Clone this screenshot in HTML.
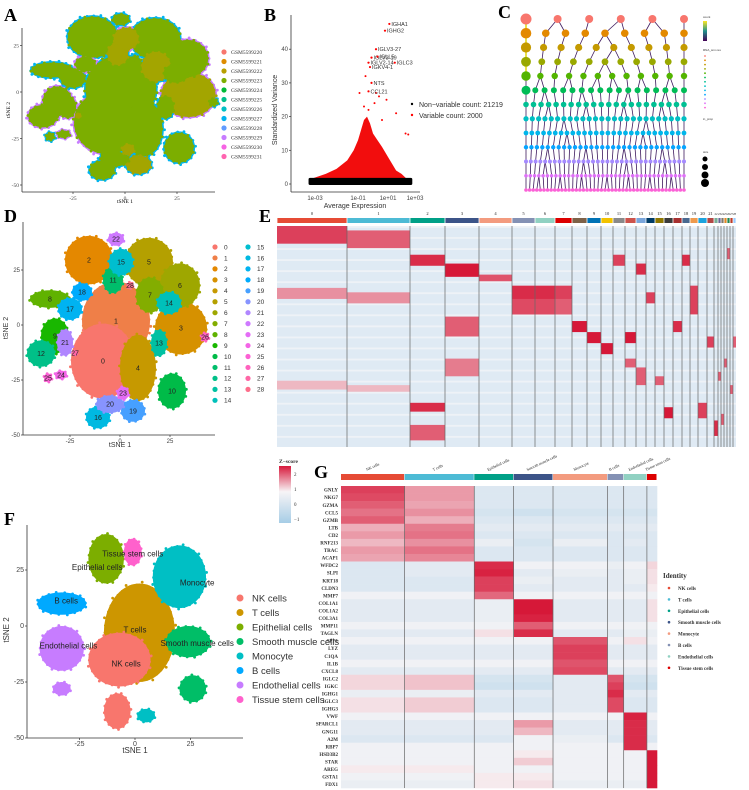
<!DOCTYPE html>
<html><head><meta charset="utf-8">
<style>
html,body{margin:0;padding:0;background:#fff;}
svg{display:block;font-family:"Liberation Sans",sans-serif;}
.ser{font-family:"Liberation Serif",serif;}
</style></head>
<body>
<svg id="fig" width="749" height="790" viewBox="0 0 749 790" xmlns="http://www.w3.org/2000/svg">
<text class="ser" x="4" y="21" font-size="18" font-weight="bold">A</text>
<text class="ser" x="264" y="21" font-size="18" font-weight="bold">B</text>
<text class="ser" x="498" y="18" font-size="18" font-weight="bold">C</text>
<text class="ser" x="4" y="222" font-size="18" font-weight="bold">D</text>
<text class="ser" x="259" y="222" font-size="18" font-weight="bold">E</text>
<text class="ser" x="4" y="525" font-size="18" font-weight="bold">F</text>
<text class="ser" x="314" y="478" font-size="18" font-weight="bold">G</text>
</svg>
<script>
// ---------------- DATA ----------------
const sampleNames = ["GSM5599220","GSM5599221","GSM5599222","GSM5599223","GSM5599224","GSM5599225","GSM5599226","GSM5599227","GSM5599228","GSM5599229","GSM5599230","GSM5599231"];
const clusterIds = [0,1,2,3,4,5,6,7,8,9,10,11,12,13,14,15,16,17,18,19,20,21,22,23,24,25,26,27,28];
const clusterX = [-8.5,-2,-15.5,30.5,9,14.5,30,15,-35,-32.5,26,-3.5,-39.5,19.5,24.5,0.5,-11,-25,-19,6.5,-5,-27.5,-2,1.5,-29.5,-36,42.5,-22.5,5];
const clusterY = [-16.4,1.8,29.5,-1.4,-19.5,28.6,18,13.6,11.8,-5,-30,20.5,-13,-8.2,10,28.6,-42,7.3,15,-39,-36,-8,39,-31,-22.7,-24,-5.5,-12.7,18];
const clusterRX = [16,17,12,13,9,12,10,7,10,7,7,5,7,4,6,6,6,6,5,6,7,4,4,3,3,2,2,1,1.5];
const clusterRY = [17,18,11,12,15,11,10,8,4,8,8,6,6,6,5,6,5,5,4,5,4,6,3,3,2,2,2,1,1.5];
const cellTypes = ["NK cells","T cells","Epithelial cells","Smooth muscle cells","Monocyte","B cells","Endothelial cells","Tissue stem cells"];
const fColors = ["#F8766D","#CD9600","#7CAE00","#00BE67","#00BFC4","#00A9FF","#C77CFF","#FF61CC"];
const fBlobType = [1,0,0,2,6,6,3,3,4,4,5,7];
const fBlobX = [2,-7,-8,-13,-33,-33,24,26,20,5,-33,-1];
const fBlobY = [-3,-15,-38,30,-10,-28,-7,-28,22,-40,10,33];
const fBlobRX = [16,14,6,8,10,4,10,6,12,4,11,4];
const fBlobRY = [22,12,8,11,10,3,7,6,14,3,5,6];
const fLabelX = [-4,0,-17,28,28,-31,-30,-1];
const fLabelY = [-18,-3,25,-9,18,10,-10,31];
const bTickLog = [-3,-1,1,3];
const bTickLabels = ["1e-03","1e-01","1e+01","1e+03"];
const bYTicks = [0,10,20,30,40];
const cloudLog = [-3.2,-2.5,-2,-1.5,-1.2,-1,-0.8,-0.6,-0.4,-0.2,0,0.3,0.6,1,1.3,1.6,2,2.4];
const cloudTop = [1.5,3,4.5,7,10,13,16,19,20,18,15,13,11,8,6,4,3,1.5];
const geneNames = ["IGHA1","IGHG2","IGLV3-27","IGLV3-19","IGLL5","IGLV2-14","IGLC3","IGKV4-1","NTS","CCL21"];
const geneLog = [1.1,0.8,0.2,-0.1,0.3,-0.3,1.5,-0.2,-0.1,-0.3];
const geneVar = [47.5,45.5,40,37.5,37.8,36,36,34.7,30,27.5];
const extraRedLog = [-0.5,0.9,1.6,2.3,2.5,0.4,-0.9,0.1,-0.3,0.6,-0.6,0.2];
const extraRedVar = [32,25,21,15,14.7,26,27,24,22,19,23,27];
const levelCounts = [6,9,10,11,12,18,22,26,28,30,34,38,45];
const eSizes = [70,63,35,34,33,23,20,17,15,14,12,12,11,10,9,9,9,9,8,8,9,7,4,3,3,3,3,3,3];
const eHeaderColors = ["#E64B35","#4DBBD5","#00A087","#3C5488","#F39B7F","#8491B4","#91D1C2","#DC0000","#7E6148","#0072B5","#F2C200","#8A8A8A","#CD534C","#7AA6DC","#003C67","#8F7700","#3B3B3B","#A73030","#4A6990","#EE9A4D","#1BA3DE","#B24745","#79AF97","#6A6599","#80796B","#E18727","#20854E","#BC3C29","#99CCFF"];
const eMarkCluster = [0,0,1,1,2,2,3,3,4,5,5,6,6,7,7,8,9,10,11,12,12,13,13,14,15,16,17,18,19,20,21,22,23,24,25,26,27,28,3,2,0,1];
const eMarkStart = [0,0.28,0.02,0.3,0.13,0.8,0.17,0.41,0.22,0.27,0.33,0.27,0.33,0.27,0.33,0.43,0.48,0.53,0.13,0.48,0.6,0.17,0.64,0.3,0.68,0.82,0.43,0.13,0.27,0.8,0.5,0.88,0.66,0.85,0.6,0.1,0.72,0.5,0.6,0.9,0.7,0.72];
const eMarkEnd = [0.08,0.33,0.1,0.35,0.18,0.84,0.23,0.5,0.25,0.4,0.4,0.4,0.4,0.4,0.4,0.48,0.53,0.58,0.18,0.53,0.64,0.22,0.72,0.35,0.72,0.87,0.48,0.18,0.4,0.87,0.55,0.95,0.7,0.9,0.64,0.15,0.76,0.55,0.68,0.97,0.74,0.75];
const eMarkVal = [1.8,1,1.5,1,2,2,2.5,1.5,1.6,2,1.7,2,1.7,1.8,1.5,2.2,2.3,2.2,1.8,2.2,1.5,2,1.5,1.8,1.5,2.3,2,2,1.8,1.8,1.8,2,1.5,1.5,1.5,1.5,1.5,1.5,1.2,1.5,0.6,0.6];
const gGroups = cellTypes;
const gGroupSizes = [63,69,39,39,54,16,23,10];
const gGroupColors = ["#E64B35","#4DBBD5","#00A087","#3C5488","#F39B7F","#8491B4","#91D1C2","#DC0000"];
const gGenes = ["GNLY","NKG7","GZMA","CCL5","GZMB","LTB","CD2","RNF213","TRAC","ACAP1","WFDC2","SLPI","KRT18","CLDN3","MMP7","COL1A1","COL1A2","COL3A1","MMP11","TAGLN","SPP1","LYZ","C1QA","IL1B","CXCL8","IGLC2","IGKC","IGHG1","IGLC3","IGHG3","VWF","SPARCL1","GNG11","A2M","RBP7","HSD3B2","STAR","AREG","GSTA1","FDX1"];
const gValues = [
[1.8,0.9,-0.4,-0.4,-0.4,-0.4,-0.4,-0.4],[1.7,0.9,-0.4,-0.4,-0.4,-0.4,-0.4,-0.4],[1.5,0.8,-0.4,-0.4,-0.4,-0.4,-0.4,-0.4],[1.3,1.0,-0.5,-0.6,-0.5,-0.5,-0.5,-0.5],[1.5,0.7,-0.4,-0.4,-0.4,-0.4,-0.4,-0.4],
[0.7,1.2,-0.3,-0.3,-0.3,-0.3,-0.3,-0.3],[0.9,1.3,-0.4,-0.4,-0.4,-0.4,-0.4,-0.4],[0.6,1.0,-0.2,-0.5,-0.2,-0.4,-0.3,-0.4],[0.9,1.3,-0.4,-0.4,-0.4,-0.4,-0.4,-0.4],[0.8,1.1,-0.4,-0.4,-0.4,-0.4,-0.4,-0.4],
[-0.4,-0.3,2.0,-0.1,-0.1,-0.2,-0.1,0.3],[-0.4,-0.3,2.1,-0.3,-0.2,-0.3,-0.2,0.2],[-0.4,-0.4,1.8,-0.2,-0.3,-0.3,-0.2,0.2],[-0.4,-0.4,1.8,-0.3,-0.3,-0.3,-0.3,0.1],[-0.1,-0.1,1.4,-0.1,-0.1,-0.1,-0.1,-0.1],
[-0.3,-0.3,-0.2,2.2,-0.3,-0.3,-0.3,0.2],[-0.3,-0.3,-0.2,2.2,-0.3,-0.3,-0.3,0.2],[-0.3,-0.3,-0.2,2.1,-0.3,-0.3,-0.3,0.2],[-0.1,-0.1,-0.1,1.5,-0.1,-0.1,-0.1,-0.1],[-0.3,-0.3,0.2,2.0,-0.3,-0.3,-0.2,-0.2],
[-0.1,-0.1,-0.1,-0.1,1.6,-0.1,0.2,-0.1],[-0.3,-0.3,-0.3,-0.3,1.8,-0.3,-0.3,-0.3],[-0.3,-0.3,-0.3,-0.3,1.8,-0.3,-0.3,-0.3],[-0.1,-0.1,-0.1,-0.1,1.6,-0.1,-0.1,-0.1],[-0.3,-0.3,-0.3,-0.3,1.7,-0.3,-0.3,-0.3],
[0.3,0.5,-0.5,-0.5,-0.3,1.6,-0.5,-0.5],[0.3,0.5,-0.6,-0.6,-0.3,1.8,-0.6,-0.6],[-0.2,-0.2,-0.3,-0.3,-0.3,2.0,-0.3,-0.3],[0.2,0.4,-0.4,-0.4,-0.3,1.7,-0.4,-0.4],[0.2,0.4,-0.4,-0.4,-0.3,1.7,-0.4,-0.4],
[-0.1,-0.1,-0.1,-0.1,-0.1,-0.1,2.1,-0.1],[-0.3,-0.3,-0.3,0.9,-0.3,-0.3,2.0,-0.3],[-0.3,-0.3,-0.3,0.6,-0.3,-0.3,2.0,-0.3],[-0.4,-0.4,-0.4,-0.1,-0.2,-0.4,2.0,-0.4],[-0.1,-0.1,-0.1,-0.1,-0.1,-0.1,2.0,-0.1],
[-0.1,-0.1,-0.1,0.1,-0.1,-0.1,-0.1,2.5],[-0.1,-0.1,-0.1,0.4,-0.1,-0.1,-0.1,2.5],[0.1,0.1,-0.1,-0.1,-0.1,-0.1,-0.1,2.5],[-0.1,-0.1,0.1,0.1,-0.1,-0.1,-0.1,2.5],[-0.2,-0.2,0.1,0.2,-0.2,-0.2,-0.2,2.5]];
const zTicks = [2,1,0,-1];

// ---------------- HELPERS ----------------
const NS='http://www.w3.org/2000/svg';
const svg=document.getElementById('fig');
function mk(tag,attrs,parent){const e=document.createElementNS(NS,tag);for(const k in attrs)e.setAttribute(k,attrs[k]);(parent||svg).appendChild(e);return e;}
function hcl(h,c,l){
  const hr=h*Math.PI/180,u=c*Math.cos(hr),v=c*Math.sin(hr);
  const Xn=95.047,Yn=100,Zn=108.883,d=Xn+15*Yn+3*Zn,un=4*Xn/d,vn=9*Yn/d;
  const Y=l>8?Yn*Math.pow((l+16)/116,3):Yn*l/903.3;
  const up=u/(13*l)+un,vp=v/(13*l)+vn;
  const X=Y*9*up/(4*vp),Z=Y*(12-3*up-20*vp)/(4*vp);
  const x=X/100,y=Y/100,z=Z/100;
  let r=3.2406*x-1.5372*y-0.4986*z,g=-0.9689*x+1.8758*y+0.0415*z,b=0.0557*x-0.2040*y+1.0570*z;
  const gm=t=>{t=t<=0.0031308?12.92*t:1.055*Math.pow(t,1/2.4)-0.055;return Math.max(0,Math.min(255,Math.round(t*255)));};
  return 'rgb('+gm(r)+','+gm(g)+','+gm(b)+')';
}
function huePal(n){const a=[];for(let i=0;i<n;i++)a.push(hcl(15+360*i/n,100,65));return a;}
function zColor(v){
  v=Math.max(-1.2,Math.min(2.5,v));
  let c1,c2,t;
  if(v<0){c1=[247,244,246];c2=[166,205,230];t=-v/1.2;}
  else{c1=[247,244,246];c2=[214,24,56];t=Math.min(1,v/2.2);}
  const c=c1.map((a,i)=>Math.round(a+(c2[i]-a)*t));
  return 'rgb('+c.join(',')+')';
}
function blob(g,cx,cy,rx,ry,color,name){
  const e=mk('ellipse',{cx:cx,cy:cy,rx:rx,ry:ry,fill:color},g);
  
  
  const n=Math.max(6,Math.round((rx+ry)/2));
  for(let k=0;k<n;k++){
    const a=k*2*Math.PI/n+0.3;
    const f=(k%3===0)?1.03:0.97;
    const c=mk('circle',{cx:cx+Math.cos(a)*rx*f,cy:cy+Math.sin(a)*ry*f,r:1.4,fill:color},g);
    
    
  }
}
function axesBox(g,x0,x1,y0,y1,xs,ys,xticks,yticks,serif,fs){
  const l1=mk('line',{x1:x0,y1:y0,x2:x0,y2:y1,stroke:'#333','stroke-width':0.8},g);
  
  
  const l2=mk('line',{x1:x0,y1:y1,x2:x1,y2:y1,stroke:'#333','stroke-width':0.8},g);
  
  
  xticks.forEach(t=>{
    const tk=mk('line',{x1:xs(t),y1:y1,x2:xs(t),y2:y1+2,stroke:'#333','stroke-width':0.7},g);
    
    
    const tx=mk('text',{x:xs(t),y:y1+8,'font-size':fs,'text-anchor':'middle',fill:'#444',class:serif?'ser':''},g);
    tx.textContent=t;
    
    
  });
  yticks.forEach(t=>{
    const tk=mk('line',{x1:x0-2,y1:ys(t),x2:x0,y2:ys(t),stroke:'#333','stroke-width':0.7},g);
    
    
    const tx=mk('text',{x:x0-3,y:ys(t)+2,'font-size':fs,'text-anchor':'end',fill:'#444',class:serif?'ser':''},g);
    tx.textContent=t;
    
    
  });
}
function label(g,x,y,s,fs,extra,name){
  const t=mk('text',Object.assign({x:x,y:y,'font-size':fs},extra||{}),g);
  t.textContent=s;
  
  
  return t;
}

// ---------------- PANEL A ----------------
(function(){
  const g=mk('g',{});
  
  
  const xs=v=>125+v*2.08, ys=v=>92-v*1.86;
  const sc=huePal(12);
  clusterIds.forEach(i=>{
    blob(g,xs(clusterX[i]),ys(clusterY[i]),clusterRX[i]*2.08+1.5,clusterRY[i]*1.86+1.5,i%3===0?sc[9]:sc[7],'sample-halo');
  });
  clusterIds.forEach(i=>{
    blob(g,xs(clusterX[i]),ys(clusterY[i]),clusterRX[i]*2.08,clusterRY[i]*1.86,i%4===3?'#A3A500':'#7CAE00','sample-cluster');
  });
  axesBox(g,22,215,28,192,xs,ys,[-25,0,25],[25,0,-25,-50],true,5.5);
  label(g,125,203,'tSNE 1',5.5,{'text-anchor':'middle',class:'ser'},'x-axis-title');
  label(g,10,110,'tSNE 2',5.5,{'text-anchor':'middle',class:'ser',transform:'rotate(-90 10 110)'},'y-axis-title');
  sampleNames.forEach((s,i)=>{
    const y=52+i*9.5;
    const c=mk('circle',{cx:224,cy:y,r:2.6,fill:sc[i]},g);
    
    
    label(g,231,y+2,s,5.5,{class:'ser',fill:'#333'},'legend-entry');
  });
})();

// ---------------- PANEL B ----------------
(function(){
  const g=mk('g',{});
  
  
  const px=[315,358,388,415];
  const xs=l=>{ if(l<=bTickLog[1]) return px[0]+(l-bTickLog[0])/(bTickLog[1]-bTickLog[0])*(px[1]-px[0]);
                if(l<=bTickLog[2]) return px[1]+(l-bTickLog[1])/(bTickLog[2]-bTickLog[1])*(px[2]-px[1]);
                return px[2]+(l-bTickLog[2])/(bTickLog[3]-bTickLog[2])*(px[3]-px[2]); };
  const ys=v=>184-v*3.37;
  let d='M'+xs(cloudLog[0])+','+ys(0);
  cloudLog.forEach((l,i)=>{d+=' L'+xs(l)+','+ys(cloudTop[i]);});
  d+=' L'+xs(cloudLog[cloudLog.length-1])+','+ys(0)+' Z';
  const p=mk('path',{d:d,fill:'#f20d0d'},g);
  
  
  extraRedLog.forEach((l,i)=>{
    const c=mk('circle',{cx:xs(l),cy:ys(extraRedVar[i]),r:1,fill:'#f00'},g);
    
    
  });
  const band=mk('rect',{x:xs(-3.3),y:ys(1.8),width:xs(2.8)-xs(-3.3),height:ys(0)-ys(1.8)+1,fill:'#000',rx:1.5},g);
  
  
  geneNames.forEach((n,i)=>{
    const c=mk('circle',{cx:xs(geneLog[i]),cy:ys(geneVar[i]),r:1.1,fill:'#f00'},g);
    
    
    label(g,xs(geneLog[i])+2,ys(geneVar[i])+2,n,5.5,{fill:'#333'},'gene-label');
  });
  axesBox(g,291,420,15,192,l=>xs(l),ys,[],bYTicks,false,6);
  bTickLog.forEach((t,i)=>{
    label(g,xs(t),200,bTickLabels[i],6,{'text-anchor':'middle',fill:'#444'},'x-tick-label');
  });
  label(g,355,208,'Average Expression',7,{'text-anchor':'middle',fill:'#333'},'x-axis-title');
  label(g,277,110,'Standardized Variance',7,{'text-anchor':'middle',fill:'#333',transform:'rotate(-90 277 110)'},'y-axis-title');
  const c1=mk('circle',{cx:412,cy:104,r:1.2,fill:'#000'},g);
  
  
  label(g,419,107,'Non\u2212variable count: 21219',7,{fill:'#333'},'legend-entry');
  const c2=mk('circle',{cx:412,cy:115,r:1.2,fill:'#f00'},g);
  
  
  label(g,419,118,'Variable count: 2000',7,{fill:'#333'},'legend-entry');
})();

// ---------------- PANEL C ----------------
(function(){
  const g=mk('g',{});
  
  
  const lvlCol=["#F8766D","#E38900","#C49A00","#99A800","#53B400","#00BC56","#00C094","#00BFC4","#00B6EB","#06A4FF","#A58AFF","#DF70F8","#FB61D7"];
  const ly=l=>19+l*14.25;
  const pos=[];
  levelCounts.forEach((n,l)=>{
    const arr=[];for(let i=0;i<n;i++)arr.push(n===1?595:526+i*(158/(n-1)));pos.push(arr);
  });
  levelCounts.forEach((n,l)=>{
    if(l===0)return;
    pos[l].forEach((x,i)=>{
      const pi=Math.min(levelCounts[l-1]-1,Math.round(i*(levelCounts[l-1]-1)/(n-1)));
      const e=mk('line',{x1:pos[l-1][pi],y1:ly(l-1),x2:x,y2:ly(l),stroke:l<5&&i===0?'#e8e04a':'#3e1a5e','stroke-width':l<5&&i===0?2:0.8},g);
      
      
    });
  });
  levelCounts.forEach((n,l)=>{
    pos[l].forEach((x,i)=>{
      const r=Math.max(1.8,(i===0&&l<6?5.5:4)-l*0.2);
      const c=mk('circle',{cx:x,cy:ly(l),r:r,fill:lvlCol[l]},g);
      
      
    });
  });
  const defs=mk('defs',{},g);
  const lg=mk('linearGradient',{id:'vir',x1:0,y1:0,x2:0,y2:1},defs);
  [['0','#fde725'],['0.5','#21918c'],['1','#440154']].forEach(s=>mk('stop',{offset:s[0],'stop-color':s[1]},lg));
  const cb=mk('rect',{x:703,y:21,width:4,height:20,fill:'url(#vir)'},g);
  
  
  label(g,703,18,'count',3,{fill:'#333'},'legend-title');
  label(g,703,51,'RNA_snn.res',3,{fill:'#333'},'legend-title');
  lvlCol.forEach((c,i)=>{
    const d=mk('circle',{cx:705,cy:56+i*4.3,r:0.9,fill:c},g);
    
    
  });
  label(g,703,120,'in_prop',3,{fill:'#333'},'legend-title');
  label(g,703,153,'size',3,{fill:'#333'},'legend-title');
  [2.5,3,3.5,4].forEach((r,i)=>{
    const d=mk('circle',{cx:705,cy:159+i*8,r:r,fill:'#000'},g);
    
    
  });
})();

// ---------------- PANEL D ----------------
(function(){
  const g=mk('g',{});
  
  
  const xs=v=>120+v*2.0, ys=v=>325-v*2.2;
  const pal=huePal(29);
  const order=[1,0,4,2,3,5,6,7,8,9,10,11,12,13,14,15,16,17,18,19,20,21,22,23,24,25,26,27,28];
  order.forEach(i=>blob(g,xs(clusterX[i]),ys(clusterY[i]),clusterRX[i]*2.0,clusterRY[i]*2.2,pal[i],'cluster-'+i));
  clusterIds.forEach(i=>label(g,xs(clusterX[i]),ys(clusterY[i])+2.5,String(i),7,{'text-anchor':'middle',fill:'#222'},'cluster-label'));
  axesBox(g,23,215,222,435,xs,ys,[-25,0,25],[25,0,-25,-50],false,6);
  label(g,120,447,'tSNE 1',7,{'text-anchor':'middle',fill:'#333'},'x-axis-title');
  label(g,8,328,'tSNE 2',7,{'text-anchor':'middle',fill:'#333',transform:'rotate(-90 8 328)'},'y-axis-title');
  clusterIds.forEach(i=>{
    const col=i<15?0:1, row=i<15?i:i-15;
    const x=col?248:215, y=247+row*10.95;
    const c=mk('circle',{cx:x,cy:y,r:2.6,fill:pal[i]},g);
    
    
    label(g,x+9,y+2.3,String(i),6.5,{fill:'#333'},'legend-entry');
  });
})();

// ---------------- PANEL E ----------------
(function(){
  const g=mk('g',{});
  
  
  const x0=277,x1=736,y0=226,y1=447;
  const tot=eSizes.reduce((a,b)=>a+b,0);
  const starts=[];let acc=x0;
  eSizes.forEach(s=>{starts.push(acc);acc+=s/tot*(x1-x0);});
  const bg=mk('rect',{x:x0,y:y0,width:x1-x0,height:y1-y0,fill:'#dfeaf4'},g);
  
  
  for(let r=0;r<60;r+=3){
    const s=mk('rect',{x:x0,y:y0+r/60*(y1-y0),width:x1-x0,height:(y1-y0)/120,fill:'#eef2f7'},g);
    
    
  }
  eMarkCluster.forEach((ci,k)=>{
    const w=eSizes[ci]/tot*(x1-x0);
    const r=mk('rect',{x:starts[ci],y:y0+eMarkStart[k]*(y1-y0),width:w,height:(eMarkEnd[k]-eMarkStart[k])*(y1-y0),fill:zColor(eMarkVal[k])},g);
    
    
  });
  eSizes.forEach((s,i)=>{
    const w=s/tot*(x1-x0);
    const h=mk('rect',{x:starts[i]+0.4,y:218,width:Math.max(0.5,w-0.8),height:5,fill:eHeaderColors[i]},g);
    
    
    label(g,starts[i]+w/2,215,String(i),i>21?3:4.5,{'text-anchor':'middle',class:'ser',fill:'#222'},'cluster-header-label');
    if(i>0){
      const l=mk('line',{x1:starts[i],y1:y0,x2:starts[i],y2:y1,stroke:'#666','stroke-width':0.7},g);
      
      
    }
  });
})();

// ---------------- PANEL F ----------------
(function(){
  const g=mk('g',{});
  
  
  const xs=v=>135+v*2.22, ys=v=>626-v*2.24;
  fBlobType.forEach((t,i)=>blob(g,xs(fBlobX[i]),ys(fBlobY[i]),fBlobRX[i]*2.22,fBlobRY[i]*2.24,fColors[t],'celltype-cluster'));
  cellTypes.forEach((n,i)=>label(g,xs(fLabelX[i]),ys(fLabelY[i]),n,8,{'text-anchor':'middle',fill:'#222'},'celltype-label'));
  axesBox(g,27,243,525,738,xs,ys,[-25,0,25],[25,0,-25,-50],false,7);
  label(g,135,753,'tSNE 1',8,{'text-anchor':'middle',fill:'#333'},'x-axis-title');
  label(g,9,630,'tSNE 2',8,{'text-anchor':'middle',fill:'#333',transform:'rotate(-90 9 630)'},'y-axis-title');
  cellTypes.forEach((n,i)=>{
    const y=598+i*14.5;
    const c=mk('circle',{cx:240,cy:y,r:3.5,fill:fColors[i]},g);
    
    
    label(g,252,y+3.5,n,9.5,{fill:'#333'},'legend-entry');
  });
})();

// ---------------- PANEL G ----------------
(function(){
  const g=mk('g',{});
  
  
  const x0=341,x1=657,y0=486,y1=788;
  const tot=gGroupSizes.reduce((a,b)=>a+b,0);
  const starts=[];let acc=x0;
  gGroupSizes.forEach(s=>{starts.push(acc);acc+=s/tot*(x1-x0);});
  const rh=(y1-y0)/gGenes.length;
  gGenes.forEach((gene,r)=>{
    gGroups.forEach((grp,c)=>{
      const w=gGroupSizes[c]/tot*(x1-x0);
      const rc=mk('rect',{x:starts[c],y:y0+r*rh,width:w+0.3,height:rh+0.3,fill:zColor(gValues[r][c])},g);
      
      
    });
    label(g,338,y0+r*rh+rh*0.75,gene,5,{'text-anchor':'end',class:'ser','font-weight':'bold',fill:'#333'},'gene-label');
  });
  gGroups.forEach((grp,c)=>{
    const w=gGroupSizes[c]/tot*(x1-x0);
    const h=mk('rect',{x:starts[c],y:474,width:w-0.5,height:6,fill:gGroupColors[c]},g);
    
    
    const cx=starts[c]+w/2;
    label(g,cx-6,471,grp,4,{class:'ser',fill:'#222',transform:'rotate(-25 '+(cx-6)+' 471)'},'group-header-label');
    if(c>0){
      const l=mk('line',{x1:starts[c],y1:y0,x2:starts[c],y2:y1,stroke:'#666','stroke-width':0.7},g);
      
      
    }
  });
  const defs=mk('defs',{},g);
  const lg=mk('linearGradient',{id:'zg',x1:0,y1:0,x2:0,y2:1},defs);
  [['0','#d7193c'],['0.45','#f7f4f6'],['1','#a6cde6']].forEach(s=>mk('stop',{offset:s[0],'stop-color':s[1]},lg));
  label(g,279,463,'Z\u2212score',5.5,{class:'ser','font-weight':'bold',fill:'#333'},'colorbar-title');
  const cb=mk('rect',{x:279,y:466,width:12,height:57,fill:'url(#zg)'},g);
  
  
  zTicks.forEach((t,i)=>label(g,294,476+i*15,t<0?'\u2212'+(-t):String(t),5,{class:'ser',fill:'#333'},'colorbar-tick-label'));
  label(g,663,578,'Identity',7,{class:'ser','font-weight':'bold',fill:'#333'},'legend-title');
  gGroups.forEach((grp,i)=>{
    const y=588+i*11.4;
    const c=mk('circle',{cx:669,cy:y,r:1.3,fill:gGroupColors[i]},g);
    
    
    label(g,678,y+2,grp,5,{class:'ser','font-weight':'bold',fill:'#333'},'legend-entry');
  });
})();
</script>
</body></html>
